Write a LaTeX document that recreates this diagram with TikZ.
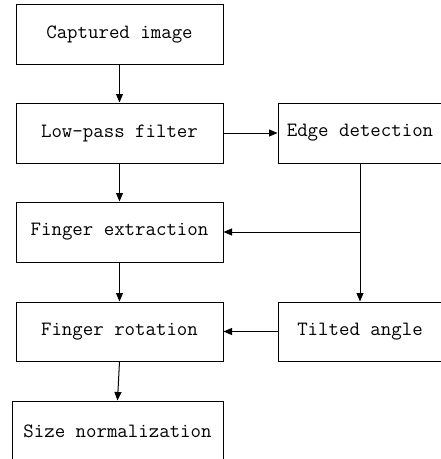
\documentclass[tikz,border=0pt]{standalone}
\usepackage{fontspec}
\usetikzlibrary{arrows.meta}
\begin{document}
\begin{tikzpicture}[x=1pt,y=-1pt,
  stage/.style={draw=black, line width=1pt, rectangle, inner sep=0pt,
    minimum height=60pt, font=\ttfamily\fontsize{20.3}{22}\selectfont},
  flow/.style={line width=1pt, -{Triangle[length=8.5pt,width=7pt]}}]
  \clip (0,0) rectangle (441,459);
  \useasboundingbox (0,0) rectangle (441,459);
  % left column of processing stages
  \node[stage, minimum width=207pt] (cap) at (119.5,34) {Captured image};
  \node[stage, minimum width=207pt] (lpf) at (119.5,133) {Low-pass filter};
  \node[stage, minimum width=207pt] (ext) at (119.5,232) {Finger extraction};
  \node[stage, minimum width=207pt, minimum height=59pt] (rot) at (119.5,331.5) {Finger rotation};
  \node[stage, minimum width=211pt] (siz) at (117.5,431) {Size normalization};
  % right column
  \node[stage, minimum width=164pt] (edg) at (360,133) {Edge detection};
  \node[stage, minimum width=164pt, minimum height=59pt] (tlt) at (360,331.5) {Tilted angle};
  % connectors
  \draw[flow] (cap.south) -- (lpf.north);
  \draw[flow] (lpf.south) -- (ext.north);
  \draw[flow] (lpf.east) -- (edg.west);
  \draw[flow] (edg.south) -- (tlt.north);
  \coordinate (br) at (edg.south |- ext.east);
  \draw[flow] (br) -- (ext.east);
  \draw[flow] (ext.south) -- (rot.north);
  \draw[flow] (tlt.west) -- (rot.east);
  \draw[flow] (rot.south) -- (siz.north);
\end{tikzpicture}
\end{document}
